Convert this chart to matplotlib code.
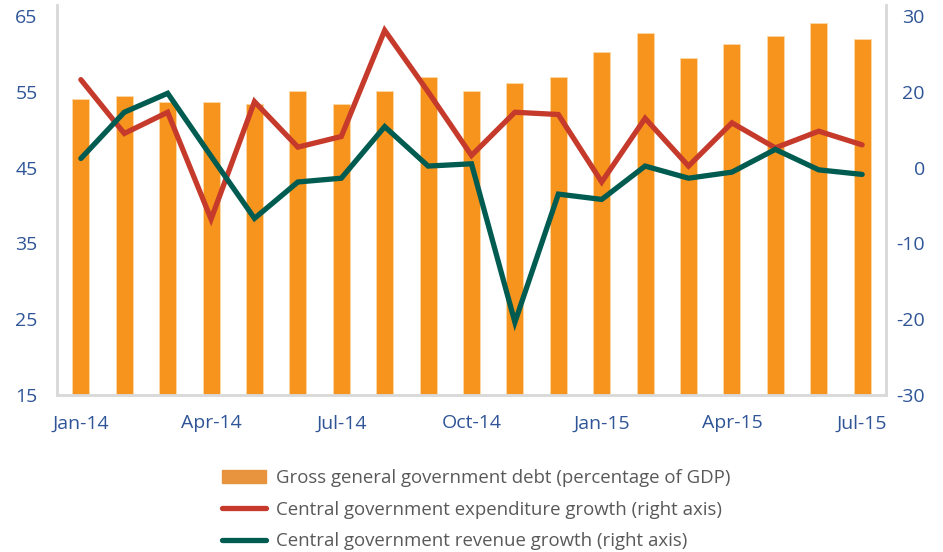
import numpy as np
import matplotlib.pyplot as plt
from matplotlib.patches import Patch
from matplotlib.lines import Line2D

plt.rcParams['font.family'] = ['Open Sans', 'DejaVu Sans']

months = ['Jan-14', 'Feb-14', 'Mar-14', 'Apr-14', 'May-14', 'Jun-14', 'Jul-14',
          'Aug-14', 'Sep-14', 'Oct-14', 'Nov-14', 'Dec-14', 'Jan-15', 'Feb-15',
          'Mar-15', 'Apr-15', 'May-15', 'Jun-15', 'Jul-15']
debt = [54.1, 54.4, 53.7, 53.7, 53.4, 55.1, 53.4, 55.1, 56.9, 55.1,
        56.2, 56.9, 60.2, 62.7, 59.4, 61.3, 62.3, 64.1, 62.0]
expenditure = [11.6, 4.5, 7.3, -6.8, 8.7, 2.7, 4.1, 18.1, 10.0, 1.6,
               7.3, 7.0, -1.9, 6.5, 0.2, 5.9, 2.6, 4.8, 3.0]
revenue = [1.2, 7.3, 9.8, 1.5, -6.7, -1.9, -1.4, 5.4, 0.2, 0.5,
           -20.4, -3.5, -4.2, 0.2, -1.4, -0.6, 2.4, -0.3, -0.9]

left_ticks = [15, 25, 35, 45, 55, 65]
right_ticks = [-30, -20, -10, 0, 10, 20]
right_labels = ['-30', '-20', '-10', '0', '20', '30']

orange = '#F7941D'
red = '#C63A2C'
teal = '#005B50'
blue = '#2F5597'
grey = '#D9D9D9'

fig = plt.figure(figsize=(9.43, 5.52), dpi=100)
ax = fig.add_axes([57/943, 157/552, 829/943, 390/552])
ax2 = ax.twinx()

x = np.arange(len(months))
ax.bar(x, debt, width=0.39, color=orange, edgecolor='#FBD9A8', linewidth=0.6, zorder=2)
ax2.plot(x, expenditure, color=red, lw=3.8, solid_capstyle='round', solid_joinstyle='miter')
ax2.plot(x, revenue, color=teal, lw=3.8, solid_capstyle='round', solid_joinstyle='miter')

pad = 11/7.6
ax.set_ylim(15, 65 + pad)
ax2.set_ylim(-30, 20 + pad)
ax.set_xlim(-0.55, len(months) - 0.45)

ax.set_yticks(left_ticks)
ax2.set_yticks(right_ticks)
ax2.set_yticklabels(right_labels, ha='right')
ax.set_xticks(x[::3])
ax.set_xticklabels(months[::3])

for a in (ax, ax2):
    a.tick_params(length=0, labelsize=14, labelcolor=blue)
    a.spines['top'].set_visible(False)
    for s in ('left', 'right', 'bottom'):
        a.spines[s].set_color(grey)
        a.spines[s].set_linewidth(1.8)
ax.tick_params(axis='y', pad=14)
ax2.tick_params(axis='y', pad=28)
ax.tick_params(axis='x', pad=14)

handles = [Patch(color='#E8943F', label='Gross general government debt (percentage of GDP)'),
           Line2D([], [], color=red, lw=3.8, solid_capstyle='round',
                  label='Central government expenditure growth (right axis)'),
           Line2D([], [], color=teal, lw=3.8, solid_capstyle='round',
                  label='Central government revenue growth (right axis)')]
fig.legend(handles=handles, loc='upper left', bbox_to_anchor=(213/943, 1 - 460/552),
           frameon=False, fontsize=13.4, labelcolor='#595959', handlelength=2.35,
           handletextpad=0.55, labelspacing=0.72, borderpad=0)

fig.savefig('out.png', dpi=100)
